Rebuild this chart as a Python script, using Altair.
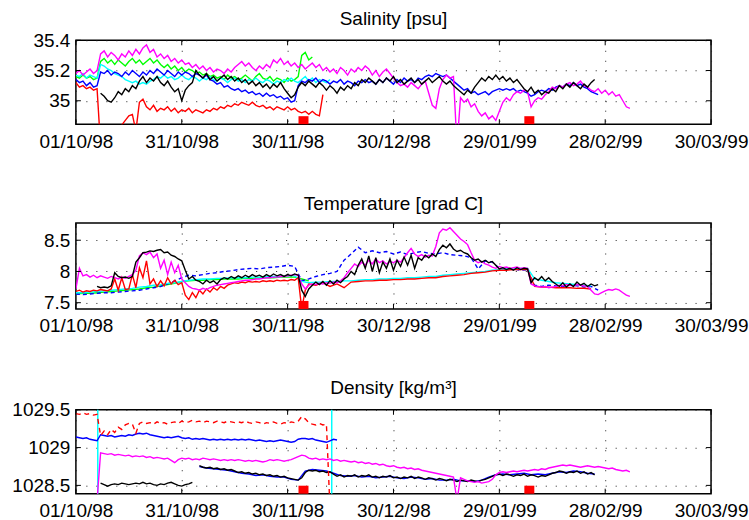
import altair as alt
import pandas as pd

# ---------------------------------------------------------------------------
# Mooring time series, 1 Oct 1998 - 30 Mar 1999 (days counted from T0)
# ---------------------------------------------------------------------------
T0 = pd.Timestamp("1998-10-01")
FONT = "Liberation Sans"
W, H = 636, 84

x_ticks = [(1998, 10, 1), (1998, 10, 31), (1998, 11, 30), (1998, 12, 30),
           (1999, 1, 29), (1999, 2, 28), (1999, 3, 30)]

sal_ticks = [35.0, 35.2, 35.4]
tmp_ticks = [7.5, 8.0, 8.5]
den_ticks = [1028.5, 1029.0, 1029.5]

sal_domain = [34.845, 35.4]
tmp_domain = [7.40, 8.775]
den_domain = [1028.39, 1029.5]

# service visits (red squares) and sensor swaps (cyan verticals), in days
visit_days = [64.5, 128.5]
swap_days = [6.2, 72.5]

# ---------------- Salinity [psu], daily samples ----------------
sal_magenta = [  # day 0 .. 157
    35.18, 35.20, 35.17, 35.19, 35.21, 35.18, 35.20, 35.31, 35.33, 35.29,
    35.32, 35.30, 35.27, 35.31, 35.29, 35.33, 35.30, 35.34, 35.31, 35.35,
    35.37, 35.32, 35.34, 35.29, 35.31, 35.28, 35.30, 35.26, 35.28, 35.25,
    35.27, 35.24, 35.25, 35.22, 35.24, 35.21, 35.23, 35.20, 35.22, 35.19,
    35.21, 35.20, 35.18, 35.21, 35.19, 35.22, 35.24, 35.26, 35.23, 35.25,
    35.22, 35.20, 35.23, 35.21, 35.24, 35.22, 35.27, 35.25, 35.28, 35.24,
    35.26, 35.23, 35.25, 35.22, 35.24, 35.21, 35.23, 35.25, 35.22, 35.24,
    35.20, 35.22, 35.19, 35.21, 35.18, 35.22, 35.20, 35.17, 35.21, 35.19,
    35.22, 35.20, 35.23, 35.21, 35.17, 35.20, 35.16, 35.19, 35.21, 35.18,
    35.15, 35.12, 35.10, 35.11, 35.09, 35.12, 35.10, 35.08, 35.11, 35.13,
    35.05, 34.97, 34.95, 35.08, 35.14, 35.17, 35.15, 35.16, 34.70, 35.02,
    34.99, 35.01, 34.96, 34.98, 34.93, 34.90, 34.92, 34.88, 34.90, 34.87,
    34.93, 34.99, 35.02, 35.00, 35.04, 35.06, 35.05, 35.07, 35.06, 34.96,
    35.00, 35.02, 35.01, 35.04, 35.06, 35.09, 35.08, 35.10, 35.09, 35.11,
    35.12, 35.10, 35.11, 35.13, 35.10, 35.09, 35.07, 35.06, 35.08, 35.05,
    35.07, 35.04, 35.06, 35.03, 35.04, 35.00, 34.96, 34.95,
]
sal_green = [  # day 0 .. 67
    35.16, 35.15, 35.17, 35.15, 35.16, 35.14, 35.15, 35.26, 35.28, 35.25,
    35.27, 35.24, 35.27, 35.25, 35.23, 35.26, 35.28, 35.25, 35.27, 35.24,
    35.26, 35.28, 35.25, 35.27, 35.24, 35.22, 35.24, 35.21, 35.23, 35.20,
    35.22, 35.19, 35.21, 35.20, 35.18, 35.19, 35.17, 35.18, 35.16, 35.17,
    35.15, 35.16, 35.14, 35.17, 35.15, 35.16, 35.14, 35.15, 35.17, 35.15,
    35.13, 35.16, 35.18, 35.15, 35.14, 35.16, 35.13, 35.15, 35.14, 35.12,
    35.15, 35.13, 35.14, 35.16, 35.30, 35.32, 35.27, 35.29,
]
sal_cyan = [  # day 0 .. 72
    35.17, 35.16, 35.18, 35.15, 35.17, 35.16, 35.15, 35.24, 35.23, 35.21,
    35.20, 35.18, 35.17, 35.16, 35.14, 35.13, 35.12, 35.13, 35.11, 35.12,
    35.11, 35.13, 35.14, 35.16, 35.15, 35.17, 35.15, 35.16, 35.14, 35.15,
    35.17, 35.15, 35.14, 35.16, 35.15, 35.13, 35.15, 35.14, 35.16, 35.14,
    35.13, 35.15, 35.14, 35.12, 35.14, 35.15, 35.13, 35.14, 35.12, 35.14,
    35.13, 35.15, 35.13, 35.12, 35.14, 35.13, 35.11, 35.13, 35.12, 35.14,
    35.13, 35.15, 35.13, 35.12, 35.14, 35.16, 35.13, 35.15, 35.12, 35.14,
    35.13, 35.12, 35.14,
]
sal_blue = [  # day 0 .. 148
    35.14, 35.12, 35.13, 35.10, 35.12, 35.09, 35.10, 35.19, 35.18, 35.20,
    35.17, 35.19, 35.18, 35.16, 35.19, 35.17, 35.20, 35.18, 35.16, 35.19,
    35.17, 35.20, 35.18, 35.21, 35.19, 35.17, 35.20, 35.18, 35.16, 35.19,
    35.17, 35.19, 35.18, 35.16, 35.18, 35.17, 35.15, 35.17, 35.14, 35.13,
    35.11, 35.12, 35.09, 35.10, 35.08, 35.07, 35.08, 35.06, 35.07, 35.05,
    35.06, 35.04, 35.05, 35.03, 35.05, 35.03, 35.04, 35.02, 35.03, 35.01,
    35.02, 34.99, 35.00, 35.10, 35.13, 35.12, 35.14, 35.13, 35.15, 35.12,
    35.14, 35.13, 35.11, 35.13, 35.12, 35.14, 35.11, 35.13, 35.12, 35.10,
    35.13, 35.12, 35.14, 35.12, 35.13, 35.11, 35.14, 35.12, 35.15, 35.13,
    35.11, 35.14, 35.12, 35.15, 35.13, 35.14, 35.12, 35.15, 35.14, 35.16,
    35.17, 35.16, 35.18, 35.17, 35.16, 35.17, 35.15, 35.13, 35.11, 35.09,
    35.07, 35.08, 35.05, 35.06, 35.04, 35.05, 35.06, 35.04, 35.06, 35.07,
    35.08, 35.07, 35.08, 35.07, 35.08, 35.06, 35.07, 35.06, 35.05, 35.03,
    35.04, 35.06, 35.07, 35.06, 35.08, 35.07, 35.09, 35.10, 35.09, 35.11,
    35.10, 35.12, 35.10, 35.11, 35.09, 35.08, 35.06, 35.05, 35.04,
]
sal_black = [  # day 7 .. 147
    35.05, 35.03, 35.00, 34.99, 35.02, 35.06, 35.04, 35.08, 35.06, 35.10,
    35.08, 35.13, 35.16, 35.12, 35.15, 35.13, 35.16, 35.12, 35.10, 35.13,
    35.09, 35.06, 35.08, 35.00, 35.07, 35.10, 35.12, 35.20, 35.17, 35.15,
    35.18, 35.14, 35.16, 35.13, 35.15, 35.17, 35.14, 35.16, 35.13, 35.15,
    35.12, 35.14, 35.11, 35.13, 35.10, 35.12, 35.09, 35.11, 35.08, 35.11,
    35.09, 35.12, 35.08, 35.05, 35.02, 35.04, 35.09, 35.12, 35.10, 35.13,
    35.11, 35.09, 35.12, 35.10, 35.07, 35.10, 35.08, 35.05, 35.09, 35.07,
    35.10, 35.08, 35.12, 35.10, 35.14, 35.12, 35.15, 35.13, 35.11, 35.14,
    35.12, 35.15, 35.13, 35.16, 35.12, 35.14, 35.11, 35.13, 35.15, 35.12,
    35.14, 35.11, 35.13, 35.15, 35.12, 35.14, 35.16, 35.13, 35.11, 35.13,
    35.10, 35.08, 35.06, 35.04, 35.07, 35.05, 35.09, 35.12, 35.15, 35.13,
    35.16, 35.14, 35.17, 35.14, 35.16, 35.13, 35.15, 35.12, 35.14, 35.11,
    35.08, 35.06, 35.09, 35.05, 35.07, 35.04, 35.06, 35.05, 35.08, 35.06,
    35.10, 35.08, 35.11, 35.09, 35.12, 35.10, 35.08, 35.11, 35.09, 35.12, 35.14,
]
sal_red = [  # day 0 .. 70
    35.12, 35.09, 35.10, 35.08, 35.09, 35.07, 35.08, 34.70, 34.70, 34.70,
    34.70, 34.70, 34.70, 34.84, 34.87, 34.90, 34.91, 34.80, 34.99, 35.01,
    34.96, 34.94, 34.97, 34.93, 34.95, 34.94, 34.96, 34.93, 34.95, 34.92,
    34.94, 34.93, 34.95, 34.92, 34.94, 34.93, 34.92, 34.94, 34.93, 34.95,
    34.94, 34.96, 34.95, 34.97, 34.96, 34.98, 34.97, 34.99, 34.98, 34.97,
    34.99, 34.97, 34.96, 34.97, 34.95, 34.96, 34.94, 34.96, 34.95, 34.94,
    34.96, 34.94, 34.95, 34.93, 34.92, 34.93, 34.91, 34.93, 34.91, 34.90, 35.04,
]

# ---------------- Temperature [grad C] ----------------
tmp_magenta = [  # daily, day 0 .. 157
    7.72, 8.05, 7.93, 7.95, 7.91, 7.94, 7.90, 7.93, 7.91, 7.89,
    7.92, 7.90, 7.88, 7.91, 7.89, 7.92, 7.95, 8.02, 8.25, 8.30,
    8.27, 8.31, 8.22, 8.28, 8.05, 8.18, 7.95, 8.15, 7.98, 8.10,
    7.88, 7.82, 7.76, 7.73, 7.72, 7.70, 7.73, 7.71, 7.74, 7.76,
    7.78, 7.79, 7.80, 7.81, 7.82, 7.83, 7.84, 7.85, 7.86, 7.86,
    7.87, 7.88, 7.88, 7.89, 7.90, 7.90, 7.91, 7.91, 7.92, 7.92,
    7.93, 7.94, 7.95, 7.94, 7.80, 7.72, 7.78, 7.80, 7.79, 7.81,
    7.80, 7.82, 7.81, 7.83, 7.82, 7.85, 7.90, 7.98, 8.05, 8.12,
    8.08, 8.15, 8.10, 8.18, 8.12, 8.20, 8.14, 8.17, 8.12, 8.16,
    8.14, 8.18, 8.15, 8.22, 8.30, 8.37, 8.28, 8.24, 8.27, 8.23,
    8.26, 8.25, 8.40, 8.62, 8.68, 8.66, 8.70, 8.64, 8.58, 8.52,
    8.48, 8.43, 8.30, 8.18, 8.14, 8.16, 8.12, 8.10, 8.07, 8.05,
    8.08, 8.06, 8.07, 8.05, 8.06, 8.07, 8.05, 8.06, 8.05, 7.80,
    7.77, 7.76, 7.75, 7.76, 7.74, 7.75, 7.76, 7.78, 7.77, 7.79,
    7.78, 7.77, 7.79, 7.78, 7.77, 7.76, 7.70, 7.64, 7.63, 7.66,
    7.69, 7.71, 7.70, 7.72, 7.70, 7.66, 7.62, 7.60,
]
tmp_black = [  # daily, day 6 .. 148
    7.76, 7.74, 7.75, 7.74, 7.77, 7.98, 7.92, 7.90, 7.91, 7.89,
    7.92, 8.15, 8.22, 8.30, 8.31, 8.33, 8.32, 8.34, 8.35, 8.30,
    8.31, 8.26, 8.24, 8.20, 8.17, 8.02, 7.88, 7.92, 7.86, 7.84,
    7.80, 7.86, 7.82, 7.85, 7.80, 7.87, 7.90, 7.88, 7.92, 7.89,
    7.93, 7.90, 7.94, 7.91, 7.95, 7.92, 7.94, 7.91, 7.95, 7.92,
    7.96, 7.93, 7.95, 7.92, 7.95, 7.93, 7.96, 7.94, 7.70, 7.60,
    7.72, 7.78, 7.83, 7.79, 7.84, 7.78, 7.85, 7.80, 7.86, 7.82,
    7.88, 7.92, 8.00, 7.95, 8.10, 8.20, 8.05, 8.25, 8.00, 8.22,
    7.98, 8.15, 8.05, 8.20, 8.02, 8.18, 8.08, 8.23, 8.10, 8.26,
    8.05, 8.22, 8.18, 8.26, 8.22, 8.28, 8.24, 8.35, 8.42, 8.38,
    8.44, 8.36, 8.32, 8.34, 8.30, 8.28, 8.22, 8.18, 8.20, 8.15,
    8.18, 8.14, 8.16, 8.10, 8.04, 8.06, 8.03, 8.05, 8.02, 8.06,
    8.03, 8.05, 8.04, 7.82, 7.90, 7.86, 7.92, 7.85, 7.90, 7.84,
    7.80, 7.76, 7.82, 7.75, 7.80, 7.76, 7.83, 7.78, 7.81, 7.76, 7.80, 7.77, 7.79,
]
tmp_blue = [  # every 2 days, day 0 .. 148
    7.64, 7.63, 7.64, 7.65, 7.66, 7.66, 7.67, 7.68, 7.69, 7.70,
    7.72, 7.74, 7.76, 7.80, 7.85, 7.90, 7.94, 7.93, 7.95, 7.97,
    7.98, 8.00, 8.01, 8.03, 8.04, 8.05, 8.04, 8.06, 8.07, 8.08,
    8.10, 8.08, 7.85, 7.88, 7.92, 7.95, 7.97, 8.00, 8.18, 8.28,
    8.39, 8.30, 8.33, 8.30, 8.32, 8.28, 8.31, 8.27, 8.30, 8.32,
    8.29, 8.28, 8.30, 8.27, 8.26, 8.25, 8.22, 8.04, 8.17, 8.15,
    8.05, 8.03, 8.04, 8.02, 8.03, 7.78, 7.76, 7.78, 7.77, 7.76,
    7.78, 7.77, 7.75, 7.76, 7.70,
]
tmp_cyan = [  # every 2 days, day 0 .. 146
    7.66, 7.66, 7.67, 7.68, 7.69, 7.70, 7.71, 7.72, 7.73, 7.75,
    7.76, 7.78, 7.79, 7.81, 7.82, 7.84, 7.86, 7.87, 7.88, 7.88,
    7.89, 7.89, 7.90, 7.90, 7.90, 7.91, 7.91, 7.92, 7.92, 7.92,
    7.93, 7.93, 7.84, 7.82, 7.83, 7.83, 7.84, 7.84, 7.85, 7.85,
    7.86, 7.87, 7.87, 7.88, 7.88, 7.89, 7.89, 7.90, 7.90, 7.91,
    7.92, 7.92, 7.94, 7.95, 7.96, 7.97, 7.98, 7.99, 8.00, 8.02,
    8.03, 8.04, 8.04, 8.05, 8.05, 7.88, 7.86, 7.84, 7.82, 7.81,
    7.80, 7.79, 7.78, 7.77,
]
tmp_green = [  # every 2 days, day 0 .. 66
    7.64, 7.65, 7.65, 7.66, 7.67, 7.68, 7.69, 7.70, 7.71, 7.72,
    7.74, 7.75, 7.77, 7.79, 7.81, 7.84, 7.85, 7.86, 7.86, 7.87,
    7.87, 7.88, 7.88, 7.88, 7.89, 7.89, 7.90, 7.90, 7.90, 7.91,
    7.91, 7.91, 7.88, 7.85,
]
tmp_red_first = [  # daily, day 0 .. 66
    7.68, 7.70, 7.67, 7.69, 7.68, 7.70, 7.69, 7.71, 7.70, 7.69,
    7.72, 7.88, 7.70, 7.90, 7.71, 7.72, 7.95, 7.74, 8.06, 7.90,
    8.17, 7.80, 7.88, 7.76, 7.85, 7.77, 7.90, 7.80, 7.86, 7.79,
    7.82, 7.62, 7.55, 7.66, 7.58, 7.70, 7.64, 7.72, 7.67, 7.74,
    7.70, 7.76, 7.73, 7.78, 7.80, 7.82, 7.81, 7.83, 7.82, 7.84,
    7.83, 7.84, 7.83, 7.85, 7.84, 7.85, 7.84, 7.86, 7.85, 7.86,
    7.85, 7.87, 7.86, 7.90, 7.40, 7.70, 7.80,
]
tmp_red_second = [  # every 2 days, day 68 .. 146
    7.78, 7.82, 7.76, 7.80, 7.74, 7.83, 7.84, 7.85, 7.85, 7.86,
    7.86, 7.87, 7.87, 7.88, 7.88, 7.89, 7.90, 7.90, 7.92, 7.93,
    7.94, 7.95, 7.97, 7.98, 7.99, 8.01, 8.02, 8.02, 8.03, 8.03,
    8.03, 7.76, 7.75, 7.75, 7.74, 7.74, 7.74, 7.73, 7.73, 7.72,
]

# ---------------- Density [kg/m3] ----------------
den_red = [  # daily, day 0 .. 72
    1029.45, 1029.44, 1029.46, 1029.44, 1029.45, 1029.43, 1029.44, 1029.16, 1029.22, 1029.17,
    1029.24, 1029.20, 1029.27, 1029.24, 1029.30, 1029.32, 1029.31, 1029.19, 1029.32, 1029.34,
    1029.32, 1029.33, 1029.31, 1029.34, 1029.32, 1029.33, 1029.31, 1029.33, 1029.34, 1029.32,
    1029.35, 1029.33, 1029.34, 1029.36, 1029.34, 1029.35, 1029.33, 1029.35, 1029.34, 1029.33,
    1029.35, 1029.34, 1029.33, 1029.35, 1029.34, 1029.33, 1029.34, 1029.33, 1029.35, 1029.33,
    1029.32, 1029.34, 1029.33, 1029.31, 1029.33, 1029.32, 1029.34, 1029.32, 1029.31, 1029.33,
    1029.32, 1029.34, 1029.33, 1029.35, 1029.41, 1029.38, 1029.33, 1029.31, 1029.30, 1029.32,
    1029.30, 1029.31, 1028.20,
]
den_blue_upper = [  # daily, day 0 .. 74
    1029.14, 1029.13, 1029.12, 1029.13, 1029.11, 1029.10, 1029.09, 1029.17, 1029.16, 1029.15,
    1029.16, 1029.14, 1029.15, 1029.16, 1029.15, 1029.17, 1029.16, 1029.18, 1029.19, 1029.18,
    1029.19, 1029.17, 1029.16, 1029.15, 1029.14, 1029.13, 1029.14, 1029.13, 1029.14, 1029.15,
    1029.13, 1029.12, 1029.13, 1029.11, 1029.12, 1029.11, 1029.12, 1029.11, 1029.10, 1029.11,
    1029.10, 1029.11, 1029.10, 1029.11, 1029.10, 1029.11, 1029.10, 1029.11, 1029.10, 1029.11,
    1029.10, 1029.09, 1029.10, 1029.09, 1029.08, 1029.09, 1029.08, 1029.09, 1029.10, 1029.09,
    1029.08, 1029.07, 1029.08, 1029.11, 1029.12, 1029.12, 1029.11, 1029.12, 1029.10, 1029.09,
    1029.08, 1029.07, 1029.09, 1029.11, 1029.10,
]
den_magenta = [  # daily, day 6 .. 157
    1028.30, 1028.93, 1028.92, 1028.91, 1028.92, 1028.90, 1028.91, 1028.90, 1028.89, 1028.90,
    1028.88, 1028.89, 1028.88, 1028.89, 1028.87, 1028.88, 1028.86, 1028.87, 1028.86, 1028.85,
    1028.86, 1028.83, 1028.80, 1028.84, 1028.86, 1028.85, 1028.86, 1028.84, 1028.85, 1028.84,
    1028.86, 1028.85, 1028.84, 1028.85, 1028.84, 1028.83, 1028.84, 1028.83, 1028.84, 1028.83,
    1028.84, 1028.83, 1028.82, 1028.83, 1028.82, 1028.83, 1028.82, 1028.81, 1028.82, 1028.84,
    1028.83, 1028.84, 1028.83, 1028.82, 1028.83, 1028.84, 1028.86, 1028.88, 1028.90, 1028.89,
    1028.86, 1028.85, 1028.86, 1028.84, 1028.85, 1028.84, 1028.85, 1028.83, 1028.84, 1028.82,
    1028.83, 1028.82, 1028.81, 1028.82, 1028.80, 1028.81, 1028.79, 1028.80, 1028.78, 1028.79,
    1028.77, 1028.78, 1028.76, 1028.75, 1028.76, 1028.74, 1028.73, 1028.74, 1028.72, 1028.73,
    1028.71, 1028.72, 1028.70, 1028.69, 1028.68, 1028.67, 1028.66, 1028.65, 1028.64, 1028.63,
    1028.62, 1028.61, 1028.30, 1028.60, 1028.58, 1028.56, 1028.55, 1028.54, 1028.55, 1028.53,
    1028.54, 1028.55, 1028.58, 1028.64, 1028.67, 1028.68, 1028.67, 1028.68, 1028.69, 1028.68,
    1028.69, 1028.70, 1028.69, 1028.70, 1028.71, 1028.70, 1028.72, 1028.71, 1028.73, 1028.74,
    1028.75, 1028.76, 1028.77, 1028.76, 1028.77, 1028.76, 1028.75, 1028.74, 1028.75, 1028.76,
    1028.75, 1028.74, 1028.75, 1028.74, 1028.73, 1028.72, 1028.73, 1028.71, 1028.70, 1028.69,
    1028.70, 1028.68,
]
den_black_lower = [  # daily, day 7 .. 33
    1028.53, 1028.51, 1028.49, 1028.51, 1028.52, 1028.51, 1028.53, 1028.52, 1028.51, 1028.52,
    1028.53, 1028.52, 1028.54, 1028.52, 1028.53, 1028.51, 1028.50, 1028.52, 1028.51, 1028.53,
    1028.54, 1028.52, 1028.50, 1028.49, 1028.51, 1028.52, 1028.54,
]
den_black_upper = [  # daily, day 35 .. 147
    1028.76, 1028.74, 1028.73, 1028.74, 1028.72, 1028.73, 1028.71, 1028.72, 1028.70, 1028.71,
    1028.69, 1028.67, 1028.68, 1028.66, 1028.67, 1028.65, 1028.66, 1028.64, 1028.65, 1028.63,
    1028.64, 1028.62, 1028.63, 1028.61, 1028.62, 1028.60, 1028.59, 1028.58, 1028.57, 1028.60,
    1028.67, 1028.70, 1028.69, 1028.70, 1028.68, 1028.69, 1028.67, 1028.68, 1028.65, 1028.62,
    1028.64, 1028.61, 1028.63, 1028.62, 1028.64, 1028.61, 1028.63, 1028.62, 1028.64, 1028.61,
    1028.62, 1028.60, 1028.62, 1028.61, 1028.63, 1028.60, 1028.61, 1028.59, 1028.61, 1028.60,
    1028.62, 1028.59, 1028.61, 1028.60, 1028.58, 1028.60, 1028.59, 1028.57, 1028.59, 1028.58,
    1028.56, 1028.58, 1028.57, 1028.55, 1028.57, 1028.56, 1028.55, 1028.57, 1028.56, 1028.55,
    1028.57, 1028.58, 1028.60, 1028.62, 1028.64, 1028.65, 1028.63, 1028.65, 1028.64, 1028.62,
    1028.64, 1028.63, 1028.65, 1028.62, 1028.64, 1028.63, 1028.61, 1028.63, 1028.62, 1028.64,
    1028.66, 1028.67, 1028.69, 1028.68, 1028.66, 1028.68, 1028.67, 1028.69, 1028.66, 1028.68,
    1028.65, 1028.67, 1028.64,
]
den_blue_lower = [  # every 2 days, day 35 .. 147
    1028.75, 1028.73, 1028.72, 1028.71, 1028.70, 1028.68, 1028.66, 1028.65, 1028.63, 1028.64,
    1028.62, 1028.61, 1028.61, 1028.58, 1028.57, 1028.69, 1028.71, 1028.70, 1028.69, 1028.66,
    1028.63, 1028.62, 1028.63, 1028.61, 1028.62, 1028.60, 1028.61, 1028.62, 1028.60, 1028.59,
    1028.61, 1028.60, 1028.58, 1028.59, 1028.57, 1028.57, 1028.58, 1028.56, 1028.56, 1028.55,
    1028.57, 1028.61, 1028.64, 1028.65, 1028.64, 1028.65, 1028.66, 1028.64, 1028.65, 1028.64,
    1028.66, 1028.68, 1028.67, 1028.69, 1028.68, 1028.66, 1028.65,
]

# ---------------------------------------------------------------------------
MAGENTA, GREEN, CYAN, BLUE, RED, BLACK = "#ff00ff", "#00ff00", "#00ffff", "#0000ff", "#ff0000", "#000000"


def stamp(day):
    return (T0 + pd.Timedelta(days=day)).strftime("%Y-%m-%dT%H:%M:%SZ")


def frame(start, step, values):
    return pd.DataFrame({"t": [stamp(start + i * step) for i in range(len(values))],
                         "v": values})


def dt(y, m, d):
    return alt.DateTime(year=y, month=m, date=d, utc=True)


x_enc = alt.X(
    "t:T",
    title=None,
    scale=alt.Scale(type="utc", domain=[dt(*x_ticks[0]), dt(*x_ticks[-1])]),
    axis=alt.Axis(values=[dt(*d) for d in x_ticks],
                  labelExpr="utcFormat(datum.value, '%d/%m/%y')"),
)


def panel(title, domain, yticks, lines, title_offset, height=H, verticals=None):
    y_enc = alt.Y("v:Q", title=None,
                  scale=alt.Scale(domain=domain, nice=False, zero=False),
                  axis=alt.Axis(values=yticks, format="~g"))
    layers = []
    if verticals:
        vdf = pd.DataFrame({"t": [stamp(d) for d in verticals]})
        layers.append(alt.Chart(vdf).mark_rule(color=CYAN, strokeWidth=1.5)
                      .encode(x=x_enc, y=alt.value(0), y2=alt.value(height)))
    for df, color, dash in lines:
        kw = dict(color=color, strokeWidth=1.4, clip=True)
        if dash:
            kw["strokeDash"] = dash
        layers.append(alt.Chart(df).mark_line(**kw).encode(x=x_enc, y=y_enc))

    # inward tick marks on all four sides of the frame
    xt = pd.DataFrame({"t": [stamp((pd.Timestamp(*d) - T0).days) for d in x_ticks]})
    yt = pd.DataFrame({"v": yticks})
    tick = dict(color="black", strokeWidth=1)
    layers += [
        alt.Chart(xt).mark_rule(**tick).encode(x=x_enc, y=alt.value(0), y2=alt.value(5)),
        alt.Chart(xt).mark_rule(**tick).encode(x=x_enc, y=alt.value(height), y2=alt.value(height - 5)),
        alt.Chart(yt).mark_rule(**tick).encode(y=y_enc, x=alt.value(0), x2=alt.value(5)),
        alt.Chart(yt).mark_rule(**tick).encode(y=y_enc, x=alt.value(W), x2=alt.value(W - 5)),
    ]

    # service visit markers sitting on the bottom of the frame
    mk = pd.DataFrame({"t": [stamp(d) for d in visit_days]})
    layers.append(
        alt.Chart(mk).mark_point(shape="M-1,-1.6L1,-1.6L1,0L-1,0Z", size=100, filled=True,
                                 color=RED, opacity=1, strokeWidth=0)
        .encode(x=x_enc, y=alt.datum(domain[0]))
    )
    return alt.layer(*layers).properties(
        width=W, height=height,
        title=alt.TitleParams(title, offset=title_offset),
    )


salinity = panel(
    "Salinity [psu]", sal_domain, sal_ticks,
    [
        (frame(0, 1, sal_green), GREEN, None),
        (frame(0, 1, sal_cyan), CYAN, None),
        (frame(0, 1, sal_red), RED, None),
        (frame(0, 1, sal_blue), BLUE, None),
        (frame(0, 1, sal_magenta), MAGENTA, None),
        (frame(7, 1, sal_black), BLACK, None),
    ],
    title_offset=2,
)

temperature = panel(
    "Temperature [grad C]", tmp_domain, tmp_ticks,
    [
        (frame(0, 2, tmp_green), GREEN, None),
        (frame(0, 2, tmp_blue), BLUE, [4, 3]),
        (frame(0, 2, tmp_cyan), CYAN, None),
        (pd.concat([frame(0, 1, tmp_red_first), frame(68, 2, tmp_red_second)]), RED, None),
        (frame(0, 1, tmp_magenta), MAGENTA, None),
        (frame(6, 1, tmp_black), BLACK, None),
    ],
    title_offset=9,
    height=86,
)

density = panel(
    "Density [kg/m³]", den_domain, den_ticks,
    [
        (frame(35, 2, den_blue_lower), BLUE, None),
        (frame(35, 1, den_black_upper), BLACK, None),
        (frame(7, 1, den_black_lower), BLACK, None),
        (frame(6, 1, den_magenta), MAGENTA, None),
        (frame(0, 1, den_blue_upper), BLUE, None),
        (frame(0, 1, den_red), RED, [5, 4]),
    ],
    title_offset=3,
    verticals=swap_days,
)

chart = (
    alt.vconcat(salinity, temperature, density, spacing=41)
    .properties(padding={"left": 11, "top": 9, "right": 0, "bottom": 0}, background="white")
    .configure_view(stroke="black", strokeWidth=1.5)
    .configure_axis(
        domain=False, ticks=False, grid=True, gridColor="#222222", gridDash=[1, 9],
        gridWidth=1, gridOpacity=1, labelFont=FONT, labelFontSize=19, labelColor="black",
        labelFlush=False, labelOverlap=False,
    )
    .configure_axisX(labelPadding=8)
    .configure_axisY(labelPadding=6)
    .configure_title(font=FONT, fontSize=19, fontWeight="normal", color="black", anchor="middle")
)

chart.save("out.html", embed_options={"renderer": "svg", "actions": False})
